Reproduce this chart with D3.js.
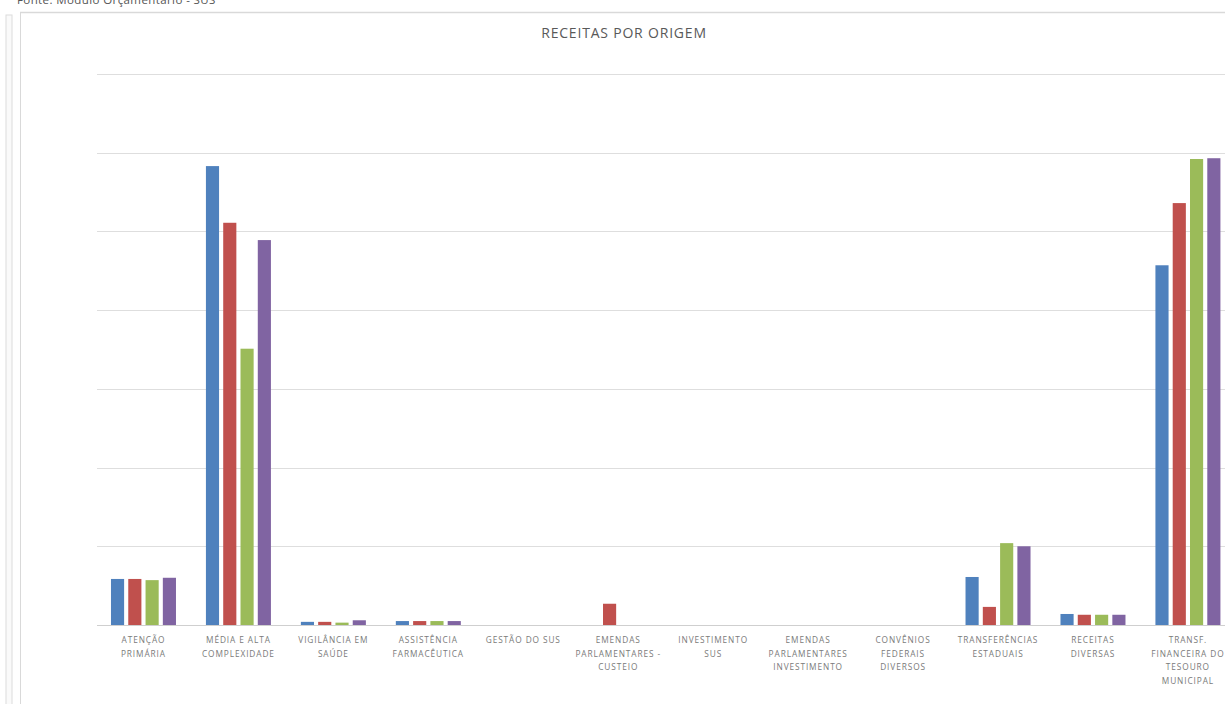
<!DOCTYPE html>
<html>
<head>
<meta charset="utf-8">
<script src="https://cdn.jsdelivr.net/npm/d3@7"></script>
<style>
  html, body { margin: 0; padding: 0; background: #fff; overflow: hidden; }
  svg { display: block; }
</style>
</head>
<body>
<svg id="chart" width="1225" height="704"></svg>
<script>
// ---- data ----
const title = "RECEITAS POR ORIGEM";
const source = "Fonte: Módulo Orçamentário - SUS";
const categories = [
  "ATENÇÃO\nPRIMÁRIA",
  "MÉDIA E ALTA\nCOMPLEXIDADE",
  "VIGILÂNCIA EM\nSAÚDE",
  "ASSISTÊNCIA\nFARMACÊUTICA",
  "GESTÃO DO SUS",
  "EMENDAS\nPARLAMENTARES -\nCUSTEIO",
  "INVESTIMENTO\nSUS",
  "EMENDAS\nPARLAMENTARES\nINVESTIMENTO",
  "CONVÊNIOS\nFEDERAIS\nDIVERSOS",
  "TRANSFERÊNCIAS\nESTADUAIS",
  "RECEITAS\nDIVERSAS",
  "TRANSF.\nFINANCEIRA DO\nTESOURO\nMUNICIPAL"
];
const seriesNames = ["Série 1", "Série 2", "Série 3", "Série 4"];
const series1 = [0.585, 5.83, 0.04, 0.05, 0, 0,    0, 0, 0, 0.61, 0.14, 4.57];
const series2 = [0.585, 5.11, 0.04, 0.05, 0, 0.27, 0, 0, 0, 0.23, 0.13, 5.36];
const series3 = [0.57,  3.51, 0.03, 0.05, 0, 0,    0, 0, 0, 1.04, 0.13, 5.92];
const series4 = [0.60,  4.89, 0.06, 0.05, 0, 0,    0, 0, 0, 1.00, 0.13, 5.93];
const seriesValues = [series1, series2, series3, series4];
const yTicks = [0, 1, 2, 3, 4, 5, 6, 7];
const colors = ["#4F81BD", "#C0504D", "#9BBB59", "#8064A2"];

// ---- layout ----
const svg = d3.select("#chart");
const plot = { left: 96, right: 1235.4, top: 74, bottom: 625 };

// frame decorations
svg.append("text").attr("x", 17).attr("y", 4).attr("font-family", "Open Sans, Liberation Sans, Arial, sans-serif")
  .attr("font-size", 11.5).attr("letter-spacing", 0.4).attr("fill", "#555").text(source);
svg.append("rect").attr("x", 6).attr("y", 15).attr("width", 6).attr("height", 700)
  .attr("fill", "#fafafa").attr("stroke", "#dcdcdc");
svg.append("line").attr("x1", 20.5).attr("x2", 20.5).attr("y1", 12).attr("y2", 704)
  .attr("stroke", "#d9d9d9");
svg.append("line").attr("x1", 20).attr("x2", 1225).attr("y1", 12.5).attr("y2", 12.5)
  .attr("stroke", "#d9d9d9").attr("stroke-width", 1.5);

const x = d3.scaleBand().domain(d3.range(categories.length)).range([plot.left, plot.right]).paddingInner(0).paddingOuter(0);
const y = d3.scaleLinear().domain([0, 7]).range([plot.bottom, plot.top]);
const groupW = 65;
const xs = d3.scaleBand().domain(d3.range(seriesNames.length)).range([0, groupW]).paddingInner(0.24);

// gridlines
svg.append("g").selectAll("line").data(yTicks).join("line")
  .attr("x1", 97).attr("x2", 1225)
  .attr("y1", d => Math.round(y(d)) + 0.5).attr("y2", d => Math.round(y(d)) + 0.5)
  .attr("stroke", d => d === 0 ? "#cfcfcf" : "#dedede").attr("stroke-width", 1);

// bars
const groups = svg.append("g").selectAll("g").data(categories).join("g")
  .attr("transform", (d, i) => `translate(${x(i) + (x.bandwidth() - groupW) / 2},0)`);
groups.selectAll("rect").data((d, i) => seriesValues.map((s, j) => ({ v: s[i], j })))
  .join("rect")
  .attr("x", d => xs(d.j))
  .attr("width", xs.bandwidth())
  .attr("y", d => y(d.v))
  .attr("height", d => y(0) - y(d.v))
  .attr("fill", d => colors[d.j]);

// category labels
const lab = svg.append("g").attr("font-family", "Open Sans, Liberation Sans, sans-serif")
  .attr("font-size", 8.3).attr("letter-spacing", 0.9).attr("fill", "#7a7a7a").attr("text-anchor", "middle");
categories.forEach((c, i) => {
  const cx = x(i) + x.bandwidth() / 2;
  const t = lab.append("text").attr("x", cx).attr("y", 643);
  c.split("\n").forEach((ln, k) => {
    t.append("tspan").attr("x", cx).attr("dy", k === 0 ? 0 : 13.5).text(ln);
  });
});

// title
svg.append("text").attr("x", 624).attr("y", 38).attr("text-anchor", "middle")
  .attr("font-family", "Open Sans, Liberation Sans, sans-serif").attr("font-size", 14)
  .attr("letter-spacing", 0.8).attr("fill", "#595959").text(title);
</script>
</body>
</html>
